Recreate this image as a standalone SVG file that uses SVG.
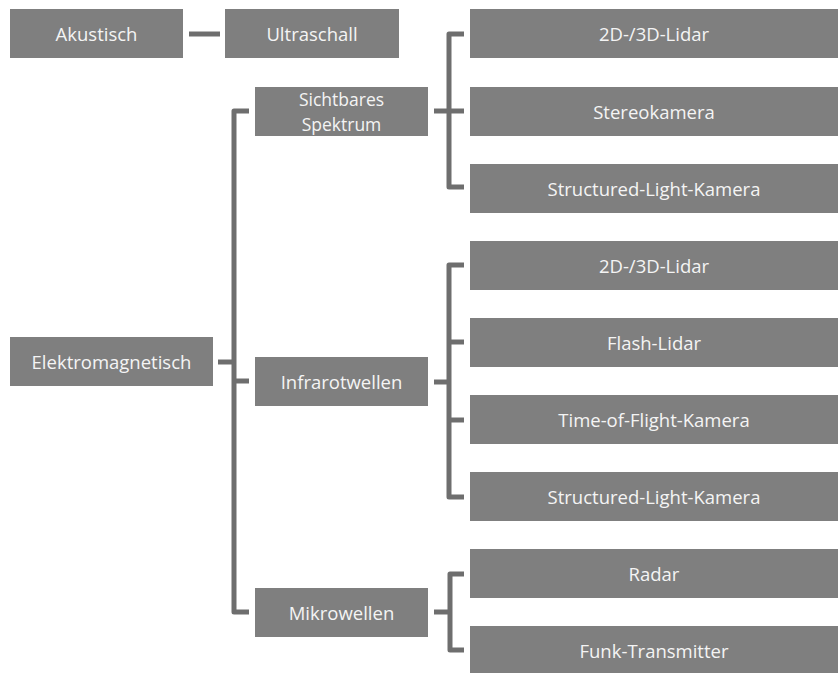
<svg xmlns="http://www.w3.org/2000/svg" width="838" height="673" viewBox="0 0 838 673">
  <style>
    .box { fill: #7f7f7f; }
    .lbl { fill: #f4f4f4; font-family: "Open Sans", "Noto Sans", sans-serif; font-size: 18.5px; text-anchor: middle; dominant-baseline: central; }
    .lbl2 { font-size: 17.5px; }
    .wire { fill: none; stroke: #6e6e6e; stroke-width: 5; stroke-linejoin: round; }
  </style>
  <rect width="838" height="673" fill="#ffffff"/>

  <!-- connectors -->
  <g id="connectors">
    <path class="wire" d="M189 34 H220"/>
    <!-- Elektromagnetisch fan-out -->
    <path class="wire" d="M249 111 H234 V612 H249"/>
    <path class="wire" d="M218 362 H234"/>
    <path class="wire" d="M234 381 H249"/>
    <!-- Sichtbares Spektrum fan-out -->
    <path class="wire" d="M464 34 H449 V187 H464"/>
    <path class="wire" d="M434 111 H464"/>
    <!-- Infrarotwellen fan-out -->
    <path class="wire" d="M464 265 H449 V497 H464"/>
    <path class="wire" d="M449 342 H464"/>
    <path class="wire" d="M449 420 H464"/>
    <path class="wire" d="M434 382 H449"/>
    <!-- Mikrowellen fan-out -->
    <path class="wire" d="M464 574 H450 V650 H464"/>
    <path class="wire" d="M434 612 H450"/>
  </g>

  <!-- left column -->
  <g id="akustisch"><rect class="box" x="10" y="9" width="173" height="49"/><text class="lbl" x="96.5" y="33.5">Akustisch</text></g>
  <g id="elektromagnetisch"><rect class="box" x="10" y="337" width="203" height="49"/><text class="lbl" x="111.5" y="361.5">Elektromagnetisch</text></g>

  <!-- middle column -->
  <g id="ultraschall"><rect class="box" x="225" y="9" width="174" height="49"/><text class="lbl" x="312" y="33.5">Ultraschall</text></g>
  <g id="sichtbar"><rect class="box" x="255" y="87" width="173" height="49"/><text class="lbl lbl2" x="341.5" y="98.5">Sichtbares</text><text class="lbl lbl2" x="341.5" y="123.5">Spektrum</text></g>
  <g id="infrarot"><rect class="box" x="255" y="357" width="173" height="49"/><text class="lbl" x="341.5" y="381.5">Infrarotwellen</text></g>
  <g id="mikrowellen"><rect class="box" x="255" y="588" width="173" height="49"/><text class="lbl" x="341.5" y="612.5">Mikrowellen</text></g>

  <!-- right column -->
  <g id="vis-lidar"><rect class="box" x="470" y="9" width="368" height="49"/><text class="lbl" x="654" y="33.5">2D-/3D-Lidar</text></g>
  <g id="vis-stereo"><rect class="box" x="470" y="87" width="368" height="49"/><text class="lbl" x="654" y="111.5">Stereokamera</text></g>
  <g id="vis-structured"><rect class="box" x="470" y="164" width="368" height="49"/><text class="lbl" x="654" y="188.5">Structured-Light-Kamera</text></g>

  <g id="ir-lidar"><rect class="box" x="470" y="241" width="368" height="49"/><text class="lbl" x="654" y="265.5">2D-/3D-Lidar</text></g>
  <g id="ir-flash"><rect class="box" x="470" y="318" width="368" height="49"/><text class="lbl" x="654" y="342.5">Flash-Lidar</text></g>
  <g id="ir-tof"><rect class="box" x="470" y="395" width="368" height="49"/><text class="lbl" x="654" y="419.5">Time-of-Flight-Kamera</text></g>
  <g id="ir-structured"><rect class="box" x="470" y="472" width="368" height="49"/><text class="lbl" x="654" y="496.5">Structured-Light-Kamera</text></g>

  <g id="mw-radar"><rect class="box" x="470" y="549" width="368" height="49"/><text class="lbl" x="654" y="573.5">Radar</text></g>
  <g id="mw-funk"><rect class="box" x="470" y="626" width="368" height="49"/><text class="lbl" x="654" y="650.5">Funk-Transmitter</text></g>
</svg>
